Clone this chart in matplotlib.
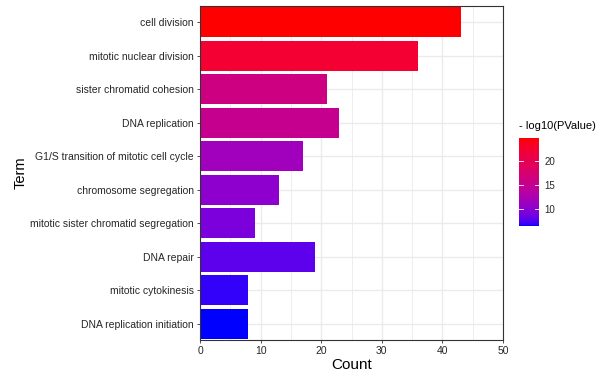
import numpy as np
import matplotlib
matplotlib.use("Agg")
import matplotlib.pyplot as plt
from matplotlib.colors import ListedColormap, Normalize

plt.rcParams['font.family'] = ['Liberation Sans', 'DejaVu Sans']

terms = [
    "cell division",
    "mitotic nuclear division",
    "sister chromatid cohesion",
    "DNA replication",
    "G1/S transition of mitotic cell cycle",
    "chromosome segregation",
    "mitotic sister chromatid segregation",
    "DNA repair",
    "mitotic cytokinesis",
    "DNA replication initiation",
]
counts = [43, 36, 21, 23, 17, 13, 9, 19, 8, 8]
neg_log_p = [24.7, 22.3, 16.1, 15.0, 11.5, 10.1, 9.1, 7.9, 6.9, 6.4]
cbar_ticks = [10, 15, 20]
x_ticks = [0, 10, 20, 30, 40, 50]


# blue -> red gradient interpolated in CIE Lab space
def srgb_to_lab(rgb):
    rgb = np.asarray(rgb, float)
    lin = np.where(rgb <= 0.04045, rgb / 12.92, ((rgb + 0.055) / 1.055) ** 2.4)
    M = np.array([[0.4124, 0.3576, 0.1805],
                  [0.2126, 0.7152, 0.0722],
                  [0.0193, 0.1192, 0.9505]])
    xyz = M @ lin / np.array([0.95047, 1.0, 1.08883])
    f = np.where(xyz > 0.008856, np.cbrt(xyz), 7.787 * xyz + 16 / 116)
    return np.array([116 * f[1] - 16, 500 * (f[0] - f[1]), 200 * (f[1] - f[2])])


def lab_to_srgb(lab):
    L, a, b = lab
    fy = (L + 16) / 116
    fx = fy + a / 500
    fz = fy - b / 200
    f = np.array([fx, fy, fz])
    xyz = np.where(f ** 3 > 0.008856, f ** 3, (f - 16 / 116) / 7.787)
    xyz = xyz * np.array([0.95047, 1.0, 1.08883])
    Minv = np.array([[3.2406, -1.5372, -0.4986],
                     [-0.9689, 1.8758, 0.0415],
                     [0.0557, -0.2040, 1.0570]])
    lin = np.clip(Minv @ xyz, 0, 1)
    rgb = np.where(lin <= 0.0031308, 12.92 * lin, 1.055 * lin ** (1 / 2.4) - 0.055)
    return np.clip(rgb, 0, 1)


lab_lo = srgb_to_lab([0, 0, 1])
lab_hi = srgb_to_lab([1, 0, 0])
cmap = ListedColormap([lab_to_srgb(lab_lo + t * (lab_hi - lab_lo))
                       for t in np.linspace(0, 1, 256)])
norm = Normalize(vmin=min(neg_log_p), vmax=max(neg_log_p))

fig = plt.figure(figsize=(6.11, 3.74), dpi=100)
ax = fig.add_axes([200 / 611, 1 - 340 / 374, 303 / 611, 334 / 374])

y = np.arange(len(terms))[::-1]
ax.set_xlim(0, 50)
ax.set_ylim(-0.48, len(terms) - 0.52)

# grid
for v in np.arange(0, 51, 5):
    ax.axvline(v, color="#EBEBEB", lw=0.6 if v % 10 else 1.0, zorder=0)
for v in y:
    ax.axhline(v, color="#EBEBEB", lw=1.0, zorder=0)

ax.barh(y, counts, height=0.9, color=cmap(norm(neg_log_p)), zorder=2)

ax.set_yticks(y)
ax.set_yticklabels(terms)
ax.set_xticks(x_ticks)
ax.tick_params(axis="both", length=2.5, width=0.6, color="#333333",
               labelcolor="#262626", labelsize=7.5, pad=2)
for s in ax.spines.values():
    s.set_color("#333333")
    s.set_linewidth(0.8)
ax.set_xlabel("Count", fontsize=11, labelpad=1)
ax.set_ylabel("Term", fontsize=10.5, labelpad=2)

# colour bar legend
cax = fig.add_axes([519 / 611, 1 - 226 / 374, 20 / 611, 88 / 374])
grad = np.linspace(norm.vmin, norm.vmax, 256).reshape(-1, 1)
cax.imshow(grad, aspect="auto", origin="lower", cmap=cmap, norm=norm,
           extent=[0, 1, norm.vmin, norm.vmax])
for t in cbar_ticks:
    cax.plot([0, 0.2], [t, t], color="white", lw=0.6)
    cax.plot([0.8, 1], [t, t], color="white", lw=0.6)
cax.set_xlim(0, 1)
cax.set_ylim(norm.vmin, norm.vmax)
cax.set_xticks([])
cax.yaxis.tick_right()
cax.set_yticks(cbar_ticks)
cax.tick_params(axis="y", length=0, labelsize=7, labelcolor="#262626", pad=4)
for s in cax.spines.values():
    s.set_visible(False)
fig.text(519 / 611, 1 - 126 / 374, "- log10(PValue)", fontsize=8,
         va="center", ha="left")

fig.savefig("out.png", dpi=100)
